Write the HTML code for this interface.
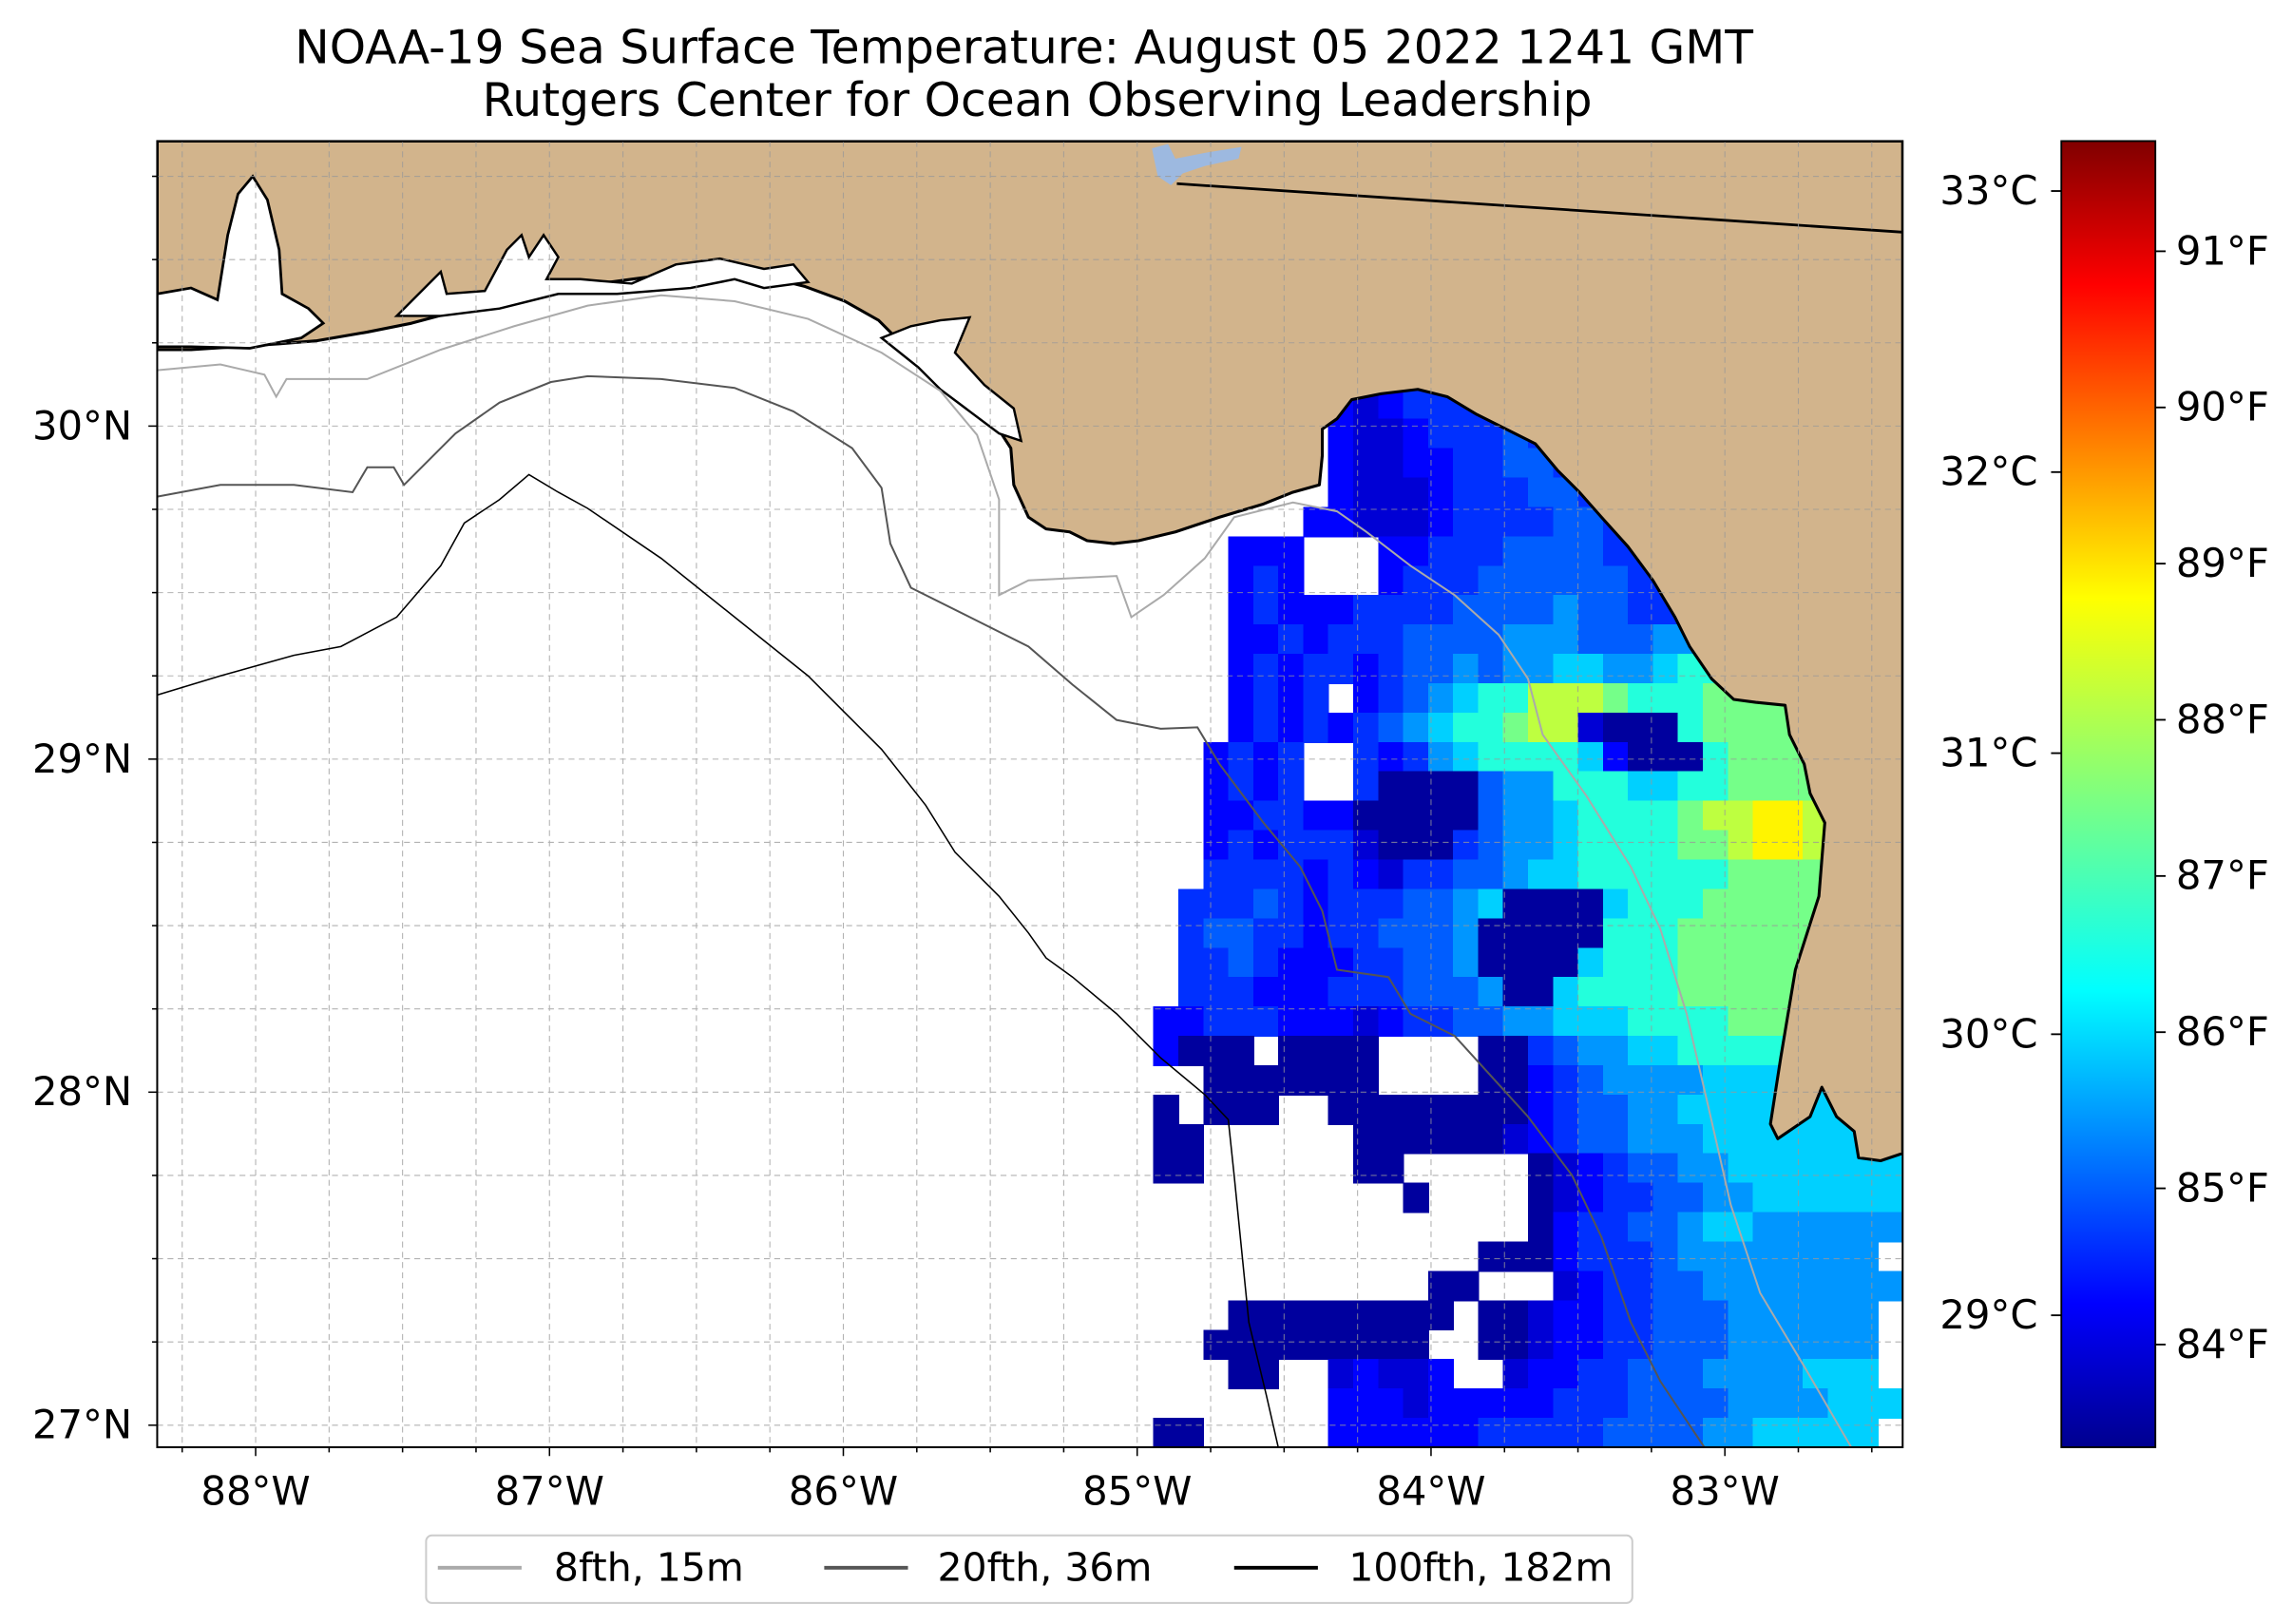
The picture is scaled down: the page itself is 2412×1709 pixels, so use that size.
<!DOCTYPE html>
<html><head><meta charset="utf-8"><style>
html,body{margin:0;padding:0;background:#fff;}
svg{display:block;font-family:"DejaVu Sans","Liberation Sans",sans-serif;}
</style></head><body>
<svg id="fig" width="2412" height="1709" viewBox="0 0 1560 1105.3" xmlns="http://www.w3.org/2000/svg">
<defs>
<clipPath id="axclip"><rect x="107" y="96" width="1188" height="889"/></clipPath>
<linearGradient id="jet" x1="0" y1="1" x2="0" y2="0">
<stop offset="0" stop-color="#00008f"/><stop offset="0.11" stop-color="#0000ff"/><stop offset="0.35" stop-color="#00ffff"/><stop offset="0.5" stop-color="#7fff7f"/><stop offset="0.65" stop-color="#ffff00"/><stop offset="0.89" stop-color="#ff0000"/><stop offset="1" stop-color="#800000"/>
</linearGradient>
</defs>
<text x="697" y="43" text-anchor="middle" font-size="31.5">NOAA-19 Sea Surface Temperature: August 05 2022 1241 GMT</text>
<text x="706" y="79" text-anchor="middle" font-size="31.5">Rutgers Center for Ocean Observing Leadership</text>
<g id="map" clip-path="url(#axclip)">
<g id="cells"></g>
<path fill="#d2b48c" stroke="#000" stroke-width="2" stroke-linejoin="round" d="M107,96 L1295,96 L1295,785 L1280,790 L1265,788 L1262,770 L1250,760 L1240,740 L1232,760 L1210,775 L1205,765 L1212,720 L1222,660 L1238,610 L1242,560 L1232,540 L1228,520 L1218,500 L1215,480 L1195,478 L1180,476 L1165,462 L1150,440 L1140,420 L1125,395 L1108,372 L1090,352 L1075,335 L1060,320 L1045,302 L1025,292 L1005,282 L985,270 L965,265 L940,268 L920,272 L910,285 L900,292 L900,310 L898,330 L880,335 L860,343 L830,352 L800,362 L775,368 L758,370 L740,368 L728,362 L712,360 L700,352 L690,330 L688,305 L675,285 L660,278 L645,262 L630,246 L612,232 L598,218 L575,205 L548,195 L520,188 L490,184 L460,186 L430,190 L400,194 L370,200 L340,206 L310,212 L280,220 L250,226 L215,232 L190,234 L160,236 L130,238 L107,238 Z"/>
<path fill="#fff" stroke="#000" stroke-width="1.8" d="M107,200 L130,196 L148,204 L155,160 L162,132 L172,120 L182,136 L190,170 L192,200 L210,210 L220,220 L205,230 L170,237 L130,236 L107,236 Z"/>
<path fill="#fff" stroke="#000" stroke-width="1.6" d="M270,215 L290,195 L300,185 L304,200 L330,198 L345,170 L355,160 L360,175 L370,160 L380,175 L372,190 L395,190 L430,193 L460,180 L490,176 L520,183 L540,180 L550,192 L520,196 L500,190 L470,196 L420,200 L380,200 L340,210 L300,215 Z M600,230 L620,222 L640,218 L660,216 L650,240 L670,262 L690,278 L695,300 L680,295 L660,280 L640,265 L625,250 Z"/>
<path fill="#9db9e0" d="M784,101 L795,98 L800,108 L820,104 L845,100 L843,108 L820,113 L805,118 L797,126 L788,120 Z"/>
<line x1="801" y1="125" x2="1295" y2="158" stroke="#000" stroke-width="1.8"/>
<g id="grid" stroke="#999" stroke-width="0.7" stroke-dasharray="4,3" opacity="0.75"></g>
<polyline fill="none" stroke="#aaa" stroke-width="1.3" points="107,252 150,248 180,255 188,270 195,258 250,258 300,238 350,222 400,208 450,201 500,205 550,217 600,240 640,266 665,296 680,340 680,405 700,395 760,392 770,420 792,405 820,380 840,352 880,342 910,348 930,362 960,385 990,405 1020,432 1040,462 1050,500 1080,542 1110,590 1130,632 1148,690 1162,750 1178,820 1198,880 1228,930 1260,985"/>
<polyline fill="none" stroke="#555" stroke-width="1.3" points="107,338 150,330 200,330 240,335 250,318 268,318 275,330 310,295 340,274 375,260 400,256 450,258 500,264 540,280 580,305 600,332 606,370 620,400 660,420 700,440 730,466 760,490 790,496 815,495 830,520 860,560 885,590 900,620 910,660 945,665 960,690 990,705 1040,760 1070,800 1090,842 1110,900 1130,940 1160,985"/>
<polyline fill="none" stroke="#000" stroke-width="1" points="107,473 150,460 200,446 232,440 270,420 300,385 316,356 340,340 360,323 380,335 400,346 450,380 500,420 550,460 600,510 630,548 650,580 680,610 700,635 712,652 730,665 760,690 790,720 820,745 836,762 840,800 845,850 850,900 862,950 870,985"/>
</g>
<rect x="107" y="96" width="1188" height="889" fill="none" stroke="#000" stroke-width="1.3"/>
<g id="xticks" font-size="27"></g>
<g id="yticks" font-size="27"></g>
<rect x="1403" y="96" width="64" height="889" fill="url(#jet)" stroke="#000" stroke-width="1.2"/>
<g id="cbticks" font-size="27"></g>
<g font-size="26.5">
<rect x="290" y="1045" width="821" height="46" rx="4" fill="#fff" stroke="#ccc" stroke-width="1.3"/>
<line x1="298" y1="1067" x2="355" y2="1067" stroke="#aaa" stroke-width="2.5"/>
<text x="377" y="1076">8fth, 15m</text>
<line x1="561" y1="1067" x2="618" y2="1067" stroke="#555" stroke-width="2.5"/>
<text x="638" y="1076">20fth, 36m</text>
<line x1="840" y1="1067" x2="897" y2="1067" stroke="#000" stroke-width="2.5"/>
<text x="918" y="1076">100fth, 182m</text>
</g>
</svg>
<script>
const lonTicks = [-88, -87, -86, -85, -84, -83];
const lonLabels = ["88°W", "87°W", "86°W", "85°W", "84°W", "83°W"];
const latTicks = [27, 28, 29, 30];
const latLabels = ["27°N", "28°N", "29°N", "30°N"];
const cTicks = [29, 30, 31, 32, 33];
const cLabels = ["29°C", "30°C", "31°C", "32°C", "33°C"];
const fTicks = [84, 85, 86, 87, 88, 89, 90, 91];
const fLabels = ["84°F", "85°F", "86°F", "87°F", "88°F", "89°F", "90°F", "91°F"];
const sstLevelCodes = "abcdefghijk";
const sstLevelValues = [28.6, 28.85, 29.05, 29.25, 29.45, 29.7, 29.95, 30.35, 30.8, 31.2, 31.6];
const sstRows = [
".......cbcdddddddddddddddddddd",
".......cbbcdddeddddddddddddddd",
".......cbbccddeedddddddddddddd",
".......cbbbcdddeeddddddddddddd",
"......ccbbbcddddeedddddddddddd",
"...ccc...ccdddeeeeddddeddddddd",
"...cdc...cdddeeeeeedddeeeddddd",
"...cdcccddddeeeefeeddefghhhhhh",
"...ccdcdddeeeefffeeeffghhhhhhh",
"...cdcddcdeefeffggffghhhiiiiii",
"...cdcd.cdefghhjjjihhhiiiiiiii",
"...cdcdcdefghhijjbaaahiiiiiiii",
"..cdcd..dcdfghhhhgcaaahiiiiiii",
"..cdcd..daaaaeffhhhgghhiiiiiii",
"..ccddccaaaaaeffghhhhijjkkjiii",
"..cdcdddbaaadeffghhhhiijkkjiii",
"..ddddcdcbddeefgghhhhhhiiiiiii",
".dddedcdddeefgaaaaghhhiiiiiiii",
".deeddcddeeefaaaaahhhiiiiiiiii",
".ddedcccddeefaaaaghhhiiiiiiiii",
".dddcccdddeeefaaghhhhiiiiiiiii",
"ccdddcccbcddeeffggghhhhiiiiiii",
"caaa.aaaa....aadeffgghhhhhhhhh",
"..aaaaaaa....aacdeffffgggggggg",
"a.aaa..aaaaaaaacdeeffggggggggg",
"aa......aaaaaabcdeefffgggggggg",
"aa......aa.....abcdeeffggggggg",
"..........a....abcddeeffgggggg",
"...............acddeefggffffff",
".............aaacdddeffffffff",
"...........aa...bcddeeffffffff",
"...aaaaaaaaa.aabccddeeeffffff",
"..aaaaaaaaa..aabccddeeeffffff",
"...aa..bcbbc..bccddeeeffffggg",
".......cccbcccccdddeeeeffffggg",
"aa.....ccccccdddddeeeeffggggg"
];
const NS = "http://www.w3.org/2000/svg";
function xOf(lon){ return 174 + (lon + 88) * 200; }
function yOf(lat){ return 970 - (lat - 27) * 226.67; }
function yC(c){ return 130 + (33 - c) * 191.3; }
function yF(f){ return 171 + (91 - f) * 106.3; }
const cMin = 28.53, cMax = 33.18;
const jetStops = [[0,[0,0,143]],[0.11,[0,0,255]],[0.35,[0,255,255]],[0.5,[127,255,127]],[0.65,[255,255,0]],[0.89,[255,0,0]],[1,[128,0,0]]];
function jet(v){
  let t = Math.max(0, Math.min(1, (v - cMin) / (cMax - cMin)));
  for (let i = 1; i < jetStops.length; i++) {
    if (t <= jetStops[i][0]) {
      const a = jetStops[i-1], b = jetStops[i], u = (t - a[0]) / (b[0] - a[0]);
      const c = a[1].map((x, k) => Math.round(x + (b[1][k] - x) * u));
      return "rgb(" + c.join(",") + ")";
    }
  }
  return "rgb(128,0,0)";
}
function mk(tag, attrs, parent){
  const el = document.createElementNS(NS, tag);
  for (const k in attrs) el.setAttribute(k, attrs[k]);
  parent.appendChild(el);
  return el;
}
const cells = document.getElementById("cells");
const cellW = 17, cellH = 20, x0 = 785, y0 = 265;
sstRows.forEach((row, r) => {
  for (let c = 0; c < 30; c++) {
    const ch = row[c] || ".";
    const idx = sstLevelCodes.indexOf(ch);
    if (idx < 0) continue;
    const el = mk("rect", {x: x0 + c * cellW, y: y0 + r * cellH, width: cellW + 0.6, height: cellH + 0.6, fill: jet(sstLevelValues[idx]), "shape-rendering": "crispEdges"}, cells);
    
    
  }
});
const grid = document.getElementById("grid");
for (let lon = -88.25; lon <= -82.4; lon += 0.25) {
  const el = mk("line", {x1: xOf(lon), y1: 96, x2: xOf(lon), y2: 985}, grid);
  
  
}
for (let lat = 27; lat <= 30.86; lat += 0.25) {
  const el = mk("line", {x1: 107, y1: yOf(lat), x2: 1295, y2: yOf(lat)}, grid);
  
  
}
const xt = document.getElementById("xticks");
for (let lon = -88.25; lon <= -82.4; lon += 0.25) {
  const major = Math.abs(lon - Math.round(lon)) < 1e-6;
  const el = mk("line", {x1: xOf(lon), y1: 985, x2: xOf(lon), y2: 985 + (major ? 6 : 3.5), stroke: "#000", "stroke-width": 1}, xt);
  
  
}
lonTicks.forEach((lon, i) => {
  const el = mk("text", {x: xOf(lon), y: 1024, "text-anchor": "middle"}, xt);
  el.textContent = lonLabels[i];
  
  
});
const yt = document.getElementById("yticks");
for (let lat = 27; lat <= 30.86; lat += 0.25) {
  const major = Math.abs(lat - Math.round(lat)) < 1e-6;
  const el = mk("line", {x1: 107, y1: yOf(lat), x2: 107 - (major ? 6 : 3.5), y2: yOf(lat), stroke: "#000", "stroke-width": 1}, yt);
  
  
}
latTicks.forEach((lat, i) => {
  const el = mk("text", {x: 90, y: yOf(lat) + 9, "text-anchor": "end"}, yt);
  el.textContent = latLabels[i];
  
  
});
const cb = document.getElementById("cbticks");
cTicks.forEach((c, i) => {
  const t = mk("line", {x1: 1403, y1: yC(c), x2: 1396, y2: yC(c), stroke: "#000", "stroke-width": 1.2}, cb);
  
  
  const el = mk("text", {x: 1387, y: yC(c) + 9, "text-anchor": "end"}, cb);
  el.textContent = cLabels[i];
  
  
});
fTicks.forEach((f, i) => {
  const t = mk("line", {x1: 1467, y1: yF(f), x2: 1474, y2: yF(f), stroke: "#000", "stroke-width": 1.2}, cb);
  
  
  const el = mk("text", {x: 1481, y: yF(f) + 9}, cb);
  el.textContent = fLabels[i];
  
  
});
</script>
</body></html>
